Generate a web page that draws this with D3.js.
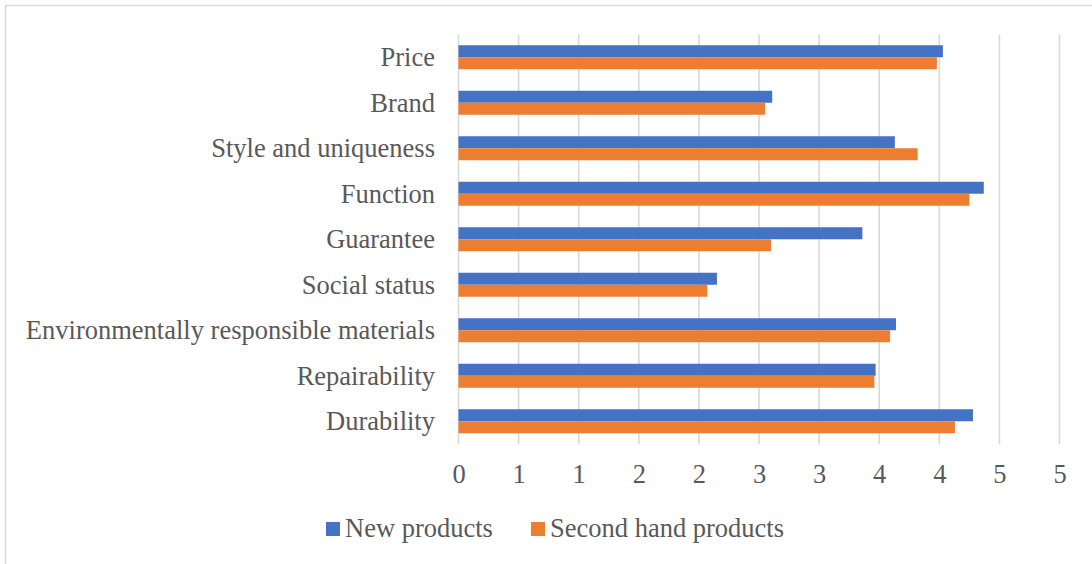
<!DOCTYPE html>
<html>
<head>
<meta charset="utf-8">
<script src="https://cdn.jsdelivr.net/npm/d3@7/dist/d3.min.js"></script>
<style>
  html, body { margin: 0; padding: 0; background: #fff; }
  svg { display: block; }
  text { font-family: "Liberation Serif", "Times New Roman", serif; fill: #595959; }
</style>
</head>
<body>
<svg id="chart" width="1092" height="564"></svg>
<script>
// Purchase criteria, rated for new vs. second hand products
const categories = [
  "Price", "Brand", "Style and uniqueness", "Function", "Guarantee",
  "Social status", "Environmentally responsible materials", "Repairability", "Durability"
];
const newProducts        = [4.03, 2.61, 3.63, 4.37, 3.36, 2.15, 3.64, 3.47, 4.28];
const secondHandProducts = [3.98, 2.55, 3.82, 4.25, 2.60, 2.07, 3.59, 3.46, 4.13];
const seriesNames  = ["New products", "Second hand products"];
const seriesColors = ["#4472C4", "#ED7D31"];
const tickValues = [0, 0.5, 1, 1.5, 2, 2.5, 3, 3.5, 4, 4.5, 5];
const tickLabels = ["0", "1", "1", "2", "2", "3", "3", "4", "4", "5", "5"];

const series = [newProducts, secondHandProducts];
const svg = d3.select("#chart");

// Chart frame
svg.append("rect")
  .attr("x", 5.5).attr("y", 5.5)
  .attr("width", 1200).attr("height", 700)
  .attr("fill", "#fff").attr("stroke", "#d9d9d9").attr("stroke-width", 1.5);

const plot = { left: 458.5, right: 1059.5, top: 34.5, bottom: 444 };

const x = d3.scaleLinear().domain([0, 5]).range([plot.left, plot.right]);
const y = d3.scaleBand().domain(categories)
  .range([plot.top, plot.bottom])
  .paddingInner(0.4725).paddingOuter(0.23625);
const ySub = d3.scaleBand().domain(d3.range(series.length))
  .range([0, y.bandwidth()]);

// Vertical gridlines
svg.append("g")
  .selectAll("line")
  .data(tickValues)
  .join("line")
  .attr("x1", d => x(d)).attr("x2", d => x(d))
  .attr("y1", plot.top).attr("y2", plot.bottom)
  .attr("stroke", "#d9d9d9").attr("stroke-width", 1.6);

// Bars
const groups = svg.append("g")
  .selectAll("g")
  .data(series)
  .join("g")
  .attr("fill", (d, i) => seriesColors[i]);

groups.each(function (vals, si) {
  d3.select(this).selectAll("rect")
    .data(vals)
    .join("rect")
    .attr("x", x(0))
    .attr("y", (d, i) => y(categories[i]) + ySub(si))
    .attr("width", d => x(d) - x(0))
    .attr("height", ySub.bandwidth());
});

// Category labels
const yAxis = d3.axisLeft(y).tickSize(0).tickPadding(0);
const gy = svg.append("g")
  .attr("transform", `translate(435,0)`)
  .call(yAxis);
gy.select(".domain").remove();
gy.selectAll("text")
  .attr("x", 0)
  .attr("dy", null)
  .attr("y", 9)
  .attr("text-anchor", "end")
  .style("font-size", "26.5px")
  .style("fill", "#595959");

// Value axis
const xAxis = d3.axisBottom(x)
  .tickValues(tickValues)
  .tickFormat((d, i) => tickLabels[i])
  .tickSize(0).tickPadding(0);
const gx = svg.append("g")
  .attr("transform", `translate(0,${plot.bottom})`)
  .call(xAxis);
gx.select(".domain").remove();
gx.selectAll("text")
  .attr("y", 39)
  .attr("dy", null)
  .style("font-size", "26.5px")
  .style("fill", "#595959");

// Legend
const legendItems = [
  { name: seriesNames[0], color: seriesColors[0], sx: 326, tx: 345 },
  { name: seriesNames[1], color: seriesColors[1], sx: 531, tx: 550 }
];
const legend = svg.append("g");
legend.selectAll("rect")
  .data(legendItems)
  .join("rect")
  .attr("x", d => d.sx).attr("y", 522)
  .attr("width", 14).attr("height", 14)
  .attr("fill", d => d.color);
legend.selectAll("text")
  .data(legendItems)
  .join("text")
  .attr("x", d => d.tx).attr("y", 537)
  .style("font-size", "26.5px")
  .text(d => d.name);
</script>
</body>
</html>
